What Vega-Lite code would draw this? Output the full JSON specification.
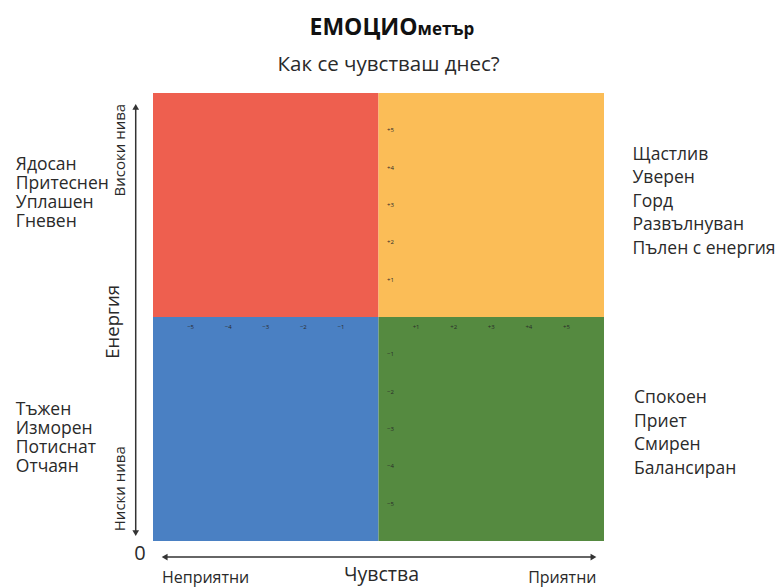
{
  "$schema": "https://vega.github.io/schema/vega-lite/v6.json",
  "width": 451,
  "height": 448,
  "autosize": {"type": "none"},
  "padding": {"left": 153, "top": 93, "right": 179, "bottom": 47},
  "background": "white",
  "config": {"view": {"stroke": null}, "text": {"font": "Open Sans", "color": "#2a2a2a"}},
  "encoding": {
    "x": {"type": "quantitative", "scale": {"domain": [-6, 6], "nice": false, "zero": false}, "axis": null},
    "y": {"type": "quantitative", "scale": {"domain": [-6, 6], "nice": false, "zero": false}, "axis": null}
  },
  "layer": [
    {
      "data": {"values": [
        {"x": -6, "x2": 0, "y": 0, "y2": 6, "q": "red"},
        {"x": 0, "x2": 6, "y": 0, "y2": 6, "q": "yellow"},
        {"x": -6, "x2": 0, "y": -6, "y2": 0, "q": "blue"},
        {"x": 0, "x2": 6, "y": -6, "y2": 0, "q": "green"}
      ]},
      "mark": {"type": "rect"},
      "encoding": {
        "x": {"field": "x", "type": "quantitative"},
        "x2": {"field": "x2"},
        "y": {"field": "y", "type": "quantitative"},
        "y2": {"field": "y2"},
        "color": {"field": "q", "type": "nominal", "legend": null,
          "scale": {"domain": ["red", "yellow", "blue", "green"], "range": ["#EE5F4F", "#FBBD57", "#4A80C3", "#558A40"]}}
      }
    },
    {
      "data": {"values": [
        {"x": -5, "t": "−5"}, {"x": -4, "t": "−4"}, {"x": -3, "t": "−3"}, {"x": -2, "t": "−2"}, {"x": -1, "t": "−1"},
        {"x": 1, "t": "+1"}, {"x": 2, "t": "+2"}, {"x": 3, "t": "+3"}, {"x": 4, "t": "+4"}, {"x": 5, "t": "+5"}
      ]},
      "mark": {"type": "text", "fontSize": 6, "baseline": "middle", "align": "center", "dy": 10},
      "encoding": {
        "x": {"field": "x", "type": "quantitative"},
        "y": {"datum": 0, "type": "quantitative"},
        "text": {"field": "t"}
      }
    },
    {
      "data": {"values": [
        {"y": 5, "t": "+5"}, {"y": 4, "t": "+4"}, {"y": 3, "t": "+3"}, {"y": 2, "t": "+2"}, {"y": 1, "t": "+1"},
        {"y": -1, "t": "−1"}, {"y": -2, "t": "−2"}, {"y": -3, "t": "−3"}, {"y": -4, "t": "−4"}, {"y": -5, "t": "−5"}
      ]},
      "mark": {"type": "text", "fontSize": 6, "baseline": "middle", "align": "center", "dx": 12},
      "encoding": {
        "x": {"datum": 0, "type": "quantitative"},
        "y": {"field": "y", "type": "quantitative"},
        "text": {"field": "t"}
      }
    },
    {
      "data": {"values": [
        {"x": -9.65, "y": 4.07, "t": "Ядосан\nПритеснен\nУплашен\nГневен"},
        {"x": -9.65, "y": -2.49, "t": "Тъжен\nИзморен\nПотиснат\nОтчаян"}
      ]},
      "mark": {"type": "text", "fontSize": 17.5, "align": "left", "baseline": "middle", "lineBreak": "\n", "lineHeight": 19},
      "encoding": {
        "x": {"field": "x", "type": "quantitative"},
        "y": {"field": "y", "type": "quantitative"},
        "text": {"field": "t"}
      }
    },
    {
      "data": {"values": [
        {"x": 6.76, "y": 4.34, "t": "Щастлив\nУверен\nГорд\nРазвълнуван\nПълен с енергия"},
        {"x": 6.8, "y": -2.17, "t": "Спокоен\nПриет\nСмирен\nБалансиран"}
      ]},
      "mark": {"type": "text", "fontSize": 17.5, "align": "left", "baseline": "middle", "lineBreak": "\n", "lineHeight": 23.5},
      "encoding": {
        "x": {"field": "x", "type": "quantitative"},
        "y": {"field": "y", "type": "quantitative"},
        "text": {"field": "t"}
      }
    },
    {
      "data": {"values": [
        {"x": -6.46, "y": 5.63, "x2": -6.46, "y2": -5.79},
        {"x": -5.69, "y": -6.43, "x2": 5.72, "y2": -6.43}
      ]},
      "mark": {"type": "rule", "color": "#333333", "strokeWidth": 1.5},
      "encoding": {
        "x": {"field": "x", "type": "quantitative"},
        "y": {"field": "y", "type": "quantitative"},
        "x2": {"field": "x2"},
        "y2": {"field": "y2"}
      }
    },
    {
      "data": {"values": [
        {"x": -6.46, "y": 5.63, "s": "triangle-up"},
        {"x": -6.46, "y": -5.79, "s": "triangle-down"},
        {"x": -5.69, "y": -6.43, "s": "triangle-left"},
        {"x": 5.72, "y": -6.43, "s": "triangle-right"}
      ]},
      "mark": {"type": "point", "filled": true, "color": "#333333", "opacity": 1, "size": 45},
      "encoding": {
        "x": {"field": "x", "type": "quantitative"},
        "y": {"field": "y", "type": "quantitative"},
        "shape": {"field": "s", "type": "nominal", "legend": null, "scale": {"domain": ["triangle-up", "triangle-down", "triangle-left", "triangle-right"], "range": ["triangle-up", "triangle-down", "triangle-left", "triangle-right"]}}
      }
    },
    {
      "data": {"values": [
        {"x": -6.89, "y": 4.47, "t": "Високи нива", "s": 15},
        {"x": -7.07, "y": -0.13, "t": "Енергия", "s": 18.5},
        {"x": -6.89, "y": -4.6, "t": "Ниски нива", "s": 15}
      ]},
      "mark": {"type": "text", "angle": 270, "align": "center", "baseline": "middle"},
      "encoding": {
        "x": {"field": "x", "type": "quantitative"},
        "y": {"field": "y", "type": "quantitative"},
        "text": {"field": "t"},
        "size": {"field": "s", "type": "quantitative", "scale": null, "legend": null}
      }
    },
    {
      "data": {"values": [
        {"x": -6.35, "y": -6.36, "t": "0", "s": 20},
        {"x": -4.6, "y": -6.99, "t": "Неприятни", "s": 16},
        {"x": 0.08, "y": -6.9, "t": "Чувства", "s": 19.5},
        {"x": 4.89, "y": -6.99, "t": "Приятни", "s": 16},
        {"x": 0.27, "y": 6.75, "t": "Как се чувстваш днес?", "s": 20.5}
      ]},
      "mark": {"type": "text", "align": "center", "baseline": "middle"},
      "encoding": {
        "x": {"field": "x", "type": "quantitative"},
        "y": {"field": "y", "type": "quantitative"},
        "text": {"field": "t"},
        "size": {"field": "s", "type": "quantitative", "scale": null, "legend": null}
      }
    },
    {
      "data": {"values": [
        {"x": 1.04, "y": 7.55, "t": "ЕМОЦИО", "s": 23}
      ]},
      "mark": {"type": "text", "align": "right", "baseline": "alphabetic", "fontWeight": "bold", "color": "#111111"},
      "encoding": {
        "x": {"field": "x", "type": "quantitative"},
        "y": {"field": "y", "type": "quantitative"},
        "text": {"field": "t"},
        "size": {"field": "s", "type": "quantitative", "scale": null, "legend": null}
      }
    },
    {
      "data": {"values": [
        {"x": 1.04, "y": 7.55, "t": "метър", "s": 17}
      ]},
      "mark": {"type": "text", "align": "left", "baseline": "alphabetic", "fontWeight": "bold", "color": "#111111"},
      "encoding": {
        "x": {"field": "x", "type": "quantitative"},
        "y": {"field": "y", "type": "quantitative"},
        "text": {"field": "t"},
        "size": {"field": "s", "type": "quantitative", "scale": null, "legend": null}
      }
    }
  ]
}
